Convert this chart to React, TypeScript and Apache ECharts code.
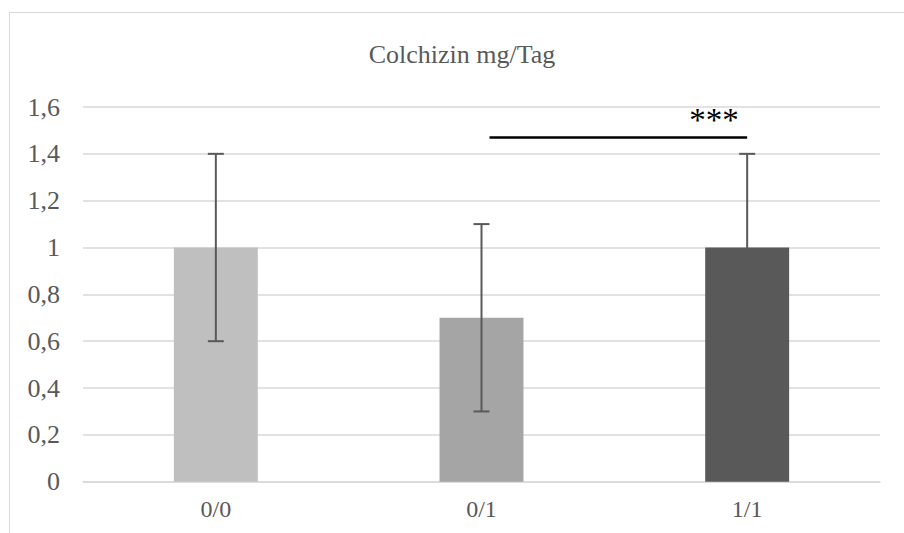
import React, { useEffect, useRef } from "react";
import * as echarts from "echarts";

const categories = ["0/0", "0/1", "1/1"];
const means = [1, 0.7, 1];
const errLow = [0.6, 0.3, 0.6];
const errHigh = [1.4, 1.1, 1.4];
const barColors = ["#bfbfbf", "#a5a5a5", "#595959"];
const yTicks = { min: 0, max: 1.6, interval: 0.2 };
const sigFrom = 1;
const sigTo = 2;
const sigLevel = 1.47;
const sigLabel = "***";
const title = "Colchizin mg/Tag";

export default function App() {
  const ref = useRef<HTMLDivElement>(null);
  useEffect(() => {
    document.body.style.margin = "0";
    if (!ref.current) return;
    const chart = echarts.init(ref.current, null, { renderer: "svg" });
    const font = "'Liberation Serif', 'Times New Roman', serif";
    chart.setOption({
      animation: false,
      backgroundColor: "#ffffff",
      grid: { left: 83, right: 24, top: 107, bottom: 51.3 },
      graphic: [
        {
          type: "rect",
          shape: { x: 9.5, y: 12.5, width: 920, height: 560 },
          style: { fill: "none", stroke: "#d9d9d9", lineWidth: 1 },
          silent: true,
          z: 0,
        },
        {
          type: "text",
          x: 462,
          y: 54,
          style: {
            text: title,
            fontFamily: font,
            fontSize: 26,
            fill: "#595959",
            textAlign: "center",
            textVerticalAlign: "middle",
          },
        },
      ],
      xAxis: {
        type: "category",
        data: categories,
        axisLine: { lineStyle: { color: "#d9d9d9", width: 1.5 } },
        axisTick: { show: false },
        axisLabel: { color: "#595959", fontFamily: font, fontSize: 24, margin: 15 },
      },
      yAxis: {
        type: "value",
        min: yTicks.min,
        max: yTicks.max,
        interval: yTicks.interval,
        axisLine: { show: false },
        axisTick: { show: false },
        splitLine: { lineStyle: { color: "#d9d9d9", width: 1.5 } },
        axisLabel: {
          color: "#595959",
          fontFamily: font,
          fontSize: 26,
          margin: 23,
          formatter: (v: number) => String(Math.round(v * 10) / 10).replace(".", ","),
        },
      },
      series: [
        {
          type: "bar",
          barWidth: "31.6%",
          data: means.map((v, i) => ({ value: v, itemStyle: { color: barColors[i] } })),
          z: 2,
        },
        {
          type: "custom",
          z: 3,
          data: categories.map((_, i) => [i, errLow[i], errHigh[i]]),
          renderItem: (params: any, api: any) => {
            const x = api.value(0);
            const lo = api.coord([x, api.value(1)]);
            const hi = api.coord([x, api.value(2)]);
            const cap = 8;
            const st = { stroke: "#595959", lineWidth: 2 };
            return {
              type: "group",
              children: [
                { type: "line", shape: { x1: hi[0], y1: hi[1], x2: lo[0], y2: lo[1] }, style: st },
                { type: "line", shape: { x1: hi[0] - cap, y1: hi[1], x2: hi[0] + cap, y2: hi[1] }, style: st },
                { type: "line", shape: { x1: lo[0] - cap, y1: lo[1], x2: lo[0] + cap, y2: lo[1] }, style: st },
              ],
            };
          },
        },
        {
          type: "custom",
          z: 4,
          data: [[sigFrom, sigTo, sigLevel]],
          renderItem: (params: any, api: any) => {
            const a = api.coord([api.value(0), api.value(2)]);
            const b = api.coord([api.value(1), api.value(2)]);
            const x1 = a[0] + 8;
            const x2 = b[0];
            return {
              type: "group",
              children: [
                { type: "line", shape: { x1, y1: a[1], x2, y2: b[1] }, style: { stroke: "#000000", lineWidth: 2.5 } },
                {
                  type: "text",
                  x: 714,
                  y: a[1] - 17,
                  style: {
                    text: sigLabel,
                    fontFamily: font,
                    fontSize: 33,
                    fill: "#000000",
                    textAlign: "center",
                    textVerticalAlign: "middle",
                  },
                },
              ],
            };
          },
        },
      ],
    });
    return () => chart.dispose();
  }, []);
  return <div ref={ref} style={{ width: 904, height: 533 }} />;
}
